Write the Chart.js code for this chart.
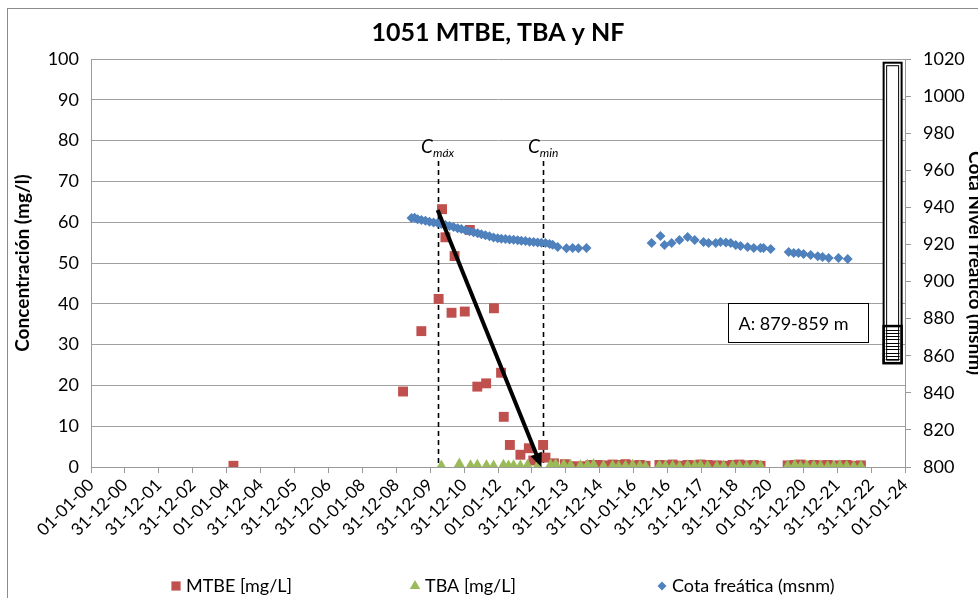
<!DOCTYPE html>
<html>
<head>
<meta charset="utf-8">
<script src="https://cdn.jsdelivr.net/npm/chart.js@4.4.1/dist/chart.umd.min.js"></script>
<style>
  html, body { margin: 0; padding: 0; background: #fff; overflow: hidden; }
  #wrap { width: 978px; height: 598px; }
</style>
</head>
<body>
<div id="wrap"><canvas id="chart" width="978" height="598"></canvas></div>
<script>
// x tick labels (one per 365.25 days, from 01-01-2000)
const xTickLabels = ['01-01-00', '31-12-00', '31-12-01', '31-12-02', '01-01-04', '31-12-04',
  '31-12-05', '31-12-06', '01-01-08', '31-12-08', '31-12-09', '31-12-10', '01-01-12',
  '31-12-12', '31-12-13', '31-12-14', '01-01-16', '31-12-16', '31-12-17', '31-12-18',
  '01-01-20', '31-12-20', '31-12-21', '31-12-22', '01-01-24'];

// sampling dates as decimal years
const mtbeYears = [2004.20, 2009.20, 2009.74, 2010.25, 2010.35, 2010.45, 2010.63, 2010.72,
  2011.02, 2011.17, 2011.39, 2011.65, 2011.88, 2012.09, 2012.17, 2012.35, 2012.66, 2012.91,
  2013.04, 2013.33, 2013.40, 2013.65, 2013.97, 2014.19, 2014.48, 2014.73, 2014.93, 2015.11,
  2015.38, 2015.56, 2015.76, 2015.97, 2016.18, 2016.35, 2016.76, 2016.94, 2017.15, 2017.35,
  2017.59, 2017.80, 2017.97, 2018.18, 2018.45, 2018.65, 2018.92, 2019.12, 2019.33, 2019.54,
  2019.74, 2020.54, 2020.75, 2020.92, 2021.10, 2021.31, 2021.51, 2021.72, 2021.90, 2022.08,
  2022.28, 2022.49, 2022.70];
const mtbeValues = [0.3, 18.5, 33.3, 41.2, 63.2, 56.3, 37.8, 51.7,
  38.1, 58.1, 19.7, 20.5, 38.9, 23.1, 12.3, 5.4, 3.0, 4.6,
  1.6, 5.4, 2.3, 0.9, 0.7, 0.2, 0.2, 0.5, 0.5, 0.4,
  0.6, 0.5, 0.7, 0.4, 0.5, 0.3, 0.5, 0.4, 0.6, 0.3,
  0.5, 0.4, 0.6, 0.5, 0.4, 0.3, 0.5, 0.6, 0.4, 0.5,
  0.3, 0.4, 0.5, 0.6, 0.3, 0.5, 0.4, 0.5, 0.3, 0.4,
  0.5, 0.3, 0.4];

const tbaYears = [2010.33, 2010.86, 2011.19, 2011.39, 2011.66, 2011.87, 2012.16, 2012.31,
  2012.46, 2012.66, 2012.87, 2013.17, 2013.55, 2013.70, 2013.94, 2014.14, 2014.43, 2014.64,
  2014.82, 2015.11, 2015.38, 2015.56, 2015.76, 2015.97, 2016.18, 2016.35, 2016.76, 2016.94,
  2017.15, 2017.35, 2017.59, 2017.80, 2017.97, 2018.18, 2018.45, 2018.65, 2018.92, 2019.12,
  2019.33, 2019.54, 2019.74, 2020.54, 2020.75, 2020.92, 2021.10, 2021.31, 2021.51, 2021.72,
  2021.90, 2022.08, 2022.28, 2022.49, 2022.70];
const tbaValues = [0.1, 0.6, 0.2, 0.3, 0.2, 0.1, 0.3, 0.1,
  0.2, 0.1, 0.3, 0.2, 0.4, 0.5, 0.4, 0.3, 0.2, 0.3,
  0.4, 0.1, 0.2, 0, 0.1, 0.3, 0.1, 0, 0.2, 0.1,
  0.1, 0, 0.2, 0.1, 0.3, 0.1, 0, 0.1, 0.2, 0.1,
  0, 0.2, 0.1, 0.1, 0.3, 0, 0.1, 0.2, 0.1, 0,
  0.1, 0.2, 0.1, 0, 0.1];

const cotaYears = [2009.45, 2009.54, 2009.63, 2009.74, 2009.86, 2009.98, 2010.10, 2010.22,
  2010.33, 2010.45, 2010.57, 2010.69, 2010.81, 2010.92, 2011.04, 2011.16, 2011.28, 2011.40,
  2011.51, 2011.63, 2011.75, 2011.87, 2011.99, 2012.10, 2012.22, 2012.34, 2012.46, 2012.58,
  2012.69, 2012.81, 2012.93, 2013.05, 2013.17, 2013.28, 2013.40, 2013.52, 2013.61, 2013.76,
  2014.02, 2014.20, 2014.37, 2014.61,
  2016.53, 2016.79, 2016.91, 2017.12, 2017.35, 2017.59, 2017.80, 2018.06, 2018.21, 2018.42,
  2018.56, 2018.72, 2018.86, 2019.01, 2019.15, 2019.36, 2019.54, 2019.74, 2019.83, 2020.04,
  2020.57, 2020.72, 2020.86, 2021.01, 2021.22, 2021.43, 2021.57, 2021.75, 2022.04, 2022.31];
const cotaValues = [934.2, 934.4, 933.6, 933.2, 932.8, 932.3, 931.9, 931.6,
  931.0, 930.5, 929.9, 929.4, 928.8, 928.4, 927.7, 927.1, 926.6, 926.0,
  925.5, 924.9, 924.4, 923.8, 923.4, 923.1, 922.9, 922.7, 922.5, 922.2,
  922.0, 921.8, 921.5, 921.3, 921.1, 920.9, 920.8, 920.3, 919.8, 918.6,
  918.0, 918.1, 918.0, 918.1,
  920.8, 924.5, 919.7, 920.8, 922.4, 924.0, 922.4, 921.3, 920.8, 920.8,
  921.3, 921.0, 920.8, 919.7, 919.1, 918.6, 918.1, 918.1, 918.1, 917.5,
  915.9, 915.4, 915.4, 914.8, 914.3, 913.7, 913.2, 912.7, 912.7, 912.1];

// annotations
const cMaxYear = 2010.22;
const cMinYear = 2013.33;
const arrowFrom = [2010.22, 63];
const arrowTo = [2013.28, 0];
const screenLabel = 'A: 879-859 m';
const screenTop = 876, screenBottom = 856, wellTop = 1018;

const RED = '#C0504D', GREEN = '#9BBB59', BLUE = '#4F81BD';
const FONT = 'Lato, "Open Sans", sans-serif';
Chart.defaults.font.family = FONT;
Chart.defaults.font.size = 18;
Chart.defaults.color = '#000';

const toPoints = (xs, ys) => xs.map((x, i) => ({ x: x, y: ys[i] }));

const decorations = {
  id: 'decorations',
  beforeDraw(chart) {
    const ctx = chart.ctx;
    ctx.save();
    ctx.fillStyle = '#fff';
    ctx.fillRect(0, 0, chart.width, chart.height);
    ctx.strokeStyle = '#8c8c8c';
    ctx.lineWidth = 1;
    ctx.strokeRect(7.5, 8.5, chart.width, chart.height);
    ctx.restore();
  },
  beforeDatasetsDraw(chart) {
    const ctx = chart.ctx, x = chart.scales.x, y = chart.scales.y;
    ctx.save();
    ctx.strokeStyle = '#000';
    ctx.lineWidth = 1.6;
    ctx.setLineDash([5, 4]);
    [cMaxYear, cMinYear].forEach(v => {
      const px = Math.round(x.getPixelForValue(v)) + 0.5;
      ctx.beginPath();
      ctx.moveTo(px, y.getPixelForValue(75));
      ctx.lineTo(px, y.getPixelForValue(0));
      ctx.stroke();
    });
    ctx.restore();
  },
  afterDatasetsDraw(chart) {
    const ctx = chart.ctx, x = chart.scales.x, y = chart.scales.y, y2 = chart.scales.y2;
    ctx.save();

    // C labels
    const labelY = y.getPixelForValue(75) - 8;
    [[cMaxYear, 'máx'], [cMinYear, 'min']].forEach(([v, sub]) => {
      ctx.font = 'italic 19px ' + FONT;
      const wC = ctx.measureText('C').width;
      ctx.font = 'italic 12px ' + FONT;
      const wS = ctx.measureText(sub).width;
      const left = x.getPixelForValue(v) - (wC + wS) / 2;
      ctx.fillStyle = '#000';
      ctx.textBaseline = 'alphabetic';
      ctx.font = 'italic 19px ' + FONT;
      ctx.fillText('C', left, labelY);
      ctx.font = 'italic 12px ' + FONT;
      ctx.fillText(sub, left + wC, labelY + 4);
    });

    // arrow
    const x0 = x.getPixelForValue(arrowFrom[0]), yA = y.getPixelForValue(arrowFrom[1]);
    const x1 = x.getPixelForValue(arrowTo[0]), yB = y.getPixelForValue(arrowTo[1]);
    const ang = Math.atan2(yB - yA, x1 - x0);
    const head = 14;
    ctx.strokeStyle = '#000';
    ctx.fillStyle = '#000';
    ctx.lineWidth = 4;
    ctx.beginPath();
    ctx.moveTo(x0, yA);
    ctx.lineTo(x1 - Math.cos(ang) * head * 0.8, yB - Math.sin(ang) * head * 0.8);
    ctx.stroke();
    ctx.beginPath();
    ctx.moveTo(x1, yB);
    ctx.lineTo(x1 - head * Math.cos(ang) + 6 * Math.sin(ang), yB - head * Math.sin(ang) - 6 * Math.cos(ang));
    ctx.lineTo(x1 - head * Math.cos(ang) - 6 * Math.sin(ang), yB - head * Math.sin(ang) + 6 * Math.cos(ang));
    ctx.closePath();
    ctx.fill();

    // screen label box
    const bx0 = Math.round(x.getPixelForValue(2018.77)) + 0.5;
    const bx1 = Math.round(x.getPixelForValue(2022.90)) + 0.5;
    const by0 = Math.round(y2.getPixelForValue(888.4)) + 0.5;
    const by1 = Math.round(y2.getPixelForValue(867.4)) + 0.5;
    ctx.fillStyle = '#fff';
    ctx.fillRect(bx0, by0, bx1 - bx0, by1 - by0);
    ctx.strokeStyle = '#000';
    ctx.lineWidth = 1;
    ctx.strokeRect(bx0, by0, bx1 - bx0, by1 - by0);
    ctx.fillStyle = '#000';
    ctx.font = '18px ' + FONT;
    ctx.textBaseline = 'middle';
    ctx.fillText(screenLabel, bx0 + 10, (by0 + by1) / 2 + 1);

    // well column
    const wx0 = x.getPixelForValue(2023.37), wx1 = x.getPixelForValue(2023.90);
    const wy0 = y2.getPixelForValue(wellTop), wy1 = y2.getPixelForValue(screenBottom);
    const hy = y2.getPixelForValue(screenTop);
    ctx.fillStyle = '#fff';
    ctx.fillRect(wx0, wy0, wx1 - wx0, wy1 - wy0);
    ctx.lineWidth = 2;
    ctx.strokeRect(wx0, wy0, wx1 - wx0, wy1 - wy0);
    ctx.lineWidth = 1;
    ctx.strokeRect(wx0 + 3, wy0 + 3, wx1 - wx0 - 6, wy1 - wy0 - 6);
    ctx.lineWidth = 2.5;
    ctx.strokeRect(wx0, hy, wx1 - wx0, wy1 - hy);
    ctx.lineWidth = 1;
    for (let yy = hy + 3.5; yy < wy1 - 1; yy += 3.3) {
      ctx.beginPath();
      ctx.moveTo(wx0 + 2, Math.round(yy) + 0.5);
      ctx.lineTo(wx1 - 2, Math.round(yy) + 0.5);
      ctx.stroke();
    }
    ctx.restore();
  },
  afterDraw(chart) {
    // legend row
    const ctx = chart.ctx;
    const items = [
      { text: 'MTBE [mg/L]', style: 'rect', color: RED, r: 6.5, x: 176 },
      { text: 'TBA [mg/L]', style: 'triangle', color: GREEN, r: 6, x: 415 },
      { text: 'Cota freática (msnm)', style: 'rectRot', color: BLUE, r: 4.5, x: 662 }
    ];
    const cy = 586;
    ctx.save();
    items.forEach(it => {
      ctx.fillStyle = it.color;
      ctx.strokeStyle = it.color;
      Chart.helpers.drawPoint(ctx, { pointStyle: it.style, radius: it.r, borderWidth: 0, rotation: 0 }, it.x, cy);
      ctx.fillStyle = '#000';
      ctx.font = '18px ' + FONT;
      ctx.textBaseline = 'middle';
      ctx.fillText(it.text, it.x + 10, cy);
    });
    ctx.restore();
  }
};

new Chart(document.getElementById('chart'), {
  type: 'scatter',
  data: {
    datasets: [{
      label: 'MTBE [mg/L]',
      data: toPoints(mtbeYears, mtbeValues),
      pointStyle: 'rect',
      pointRadius: 7,
      backgroundColor: RED,
      borderColor: RED,
      borderWidth: 0,
      yAxisID: 'y',
      order: 2
    }, {
      label: 'TBA [mg/L]',
      data: toPoints(tbaYears, tbaValues),
      pointStyle: 'triangle',
      pointRadius: 7,
      backgroundColor: GREEN,
      borderColor: GREEN,
      borderWidth: 0,
      yAxisID: 'y',
      order: 1
    }, {
      label: 'Cota freática (msnm)',
      data: toPoints(cotaYears, cotaValues),
      pointStyle: 'rectRot',
      pointRadius: 5,
      backgroundColor: BLUE,
      borderColor: BLUE,
      borderWidth: 0,
      yAxisID: 'y2',
      order: 0
    }]
  },
  options: {
    responsive: false,
    animation: false,
    layout: { padding: { left: 0, right: 0, top: 0, bottom: 46 } },
    plugins: {
      legend: { display: false },
      tooltip: { enabled: false },
      title: {
        display: true,
        text: '1051 MTBE, TBA y NF',
        fullSize: false,
        font: { size: 25, weight: 'bold' },
        color: '#000',
        padding: { top: 18, bottom: 11 }
      }
    },
    scales: {
      x: {
        type: 'linear',
        min: 2000,
        max: 2024,
        afterFit: s => { s.height = 85; },
        afterBuildTicks: s => {
          s.ticks = xTickLabels.map((_, i) => ({ value: 2000 + i }));
        },
        ticks: {
          autoSkip: false,
          maxRotation: 45,
          minRotation: 45,
          padding: 2,
          font: { size: 17 },
          callback: (v, i) => xTickLabels[i]
        },
        grid: { drawOnChartArea: false, tickLength: 6, color: '#9a9a9a' },
        border: { color: '#9a9a9a' }
      },
      y: {
        position: 'left',
        min: 0,
        max: 100,
        afterFit: s => { s.width = 91; },
        ticks: { stepSize: 10, padding: 12, font: { size: 18 } },
        grid: { color: '#a0a0a0', drawTicks: false },
        border: { color: '#9a9a9a' },
        title: {
          display: true,
          text: 'Concentración (mg/l)',
          font: { size: 19, weight: 'bold' },
          padding: { top: 11, bottom: 0 }
        }
      },
      y2: {
        position: 'right',
        min: 800,
        max: 1020,
        afterFit: s => { s.width = 73; },
        ticks: { stepSize: 20, padding: 12, font: { size: 18 }, callback: v => String(v) },
        grid: { drawOnChartArea: false, tickLength: 6, color: '#9a9a9a' },
        border: { color: '#9a9a9a' },
        title: {
          display: true,
          text: 'Cota Nivel freático (msnm)',
          font: { size: 19, weight: 'bold' },
          padding: { top: -9, bottom: 0 }
        }
      }
    }
  },
  plugins: [decorations]
});
</script>
</body>
</html>
